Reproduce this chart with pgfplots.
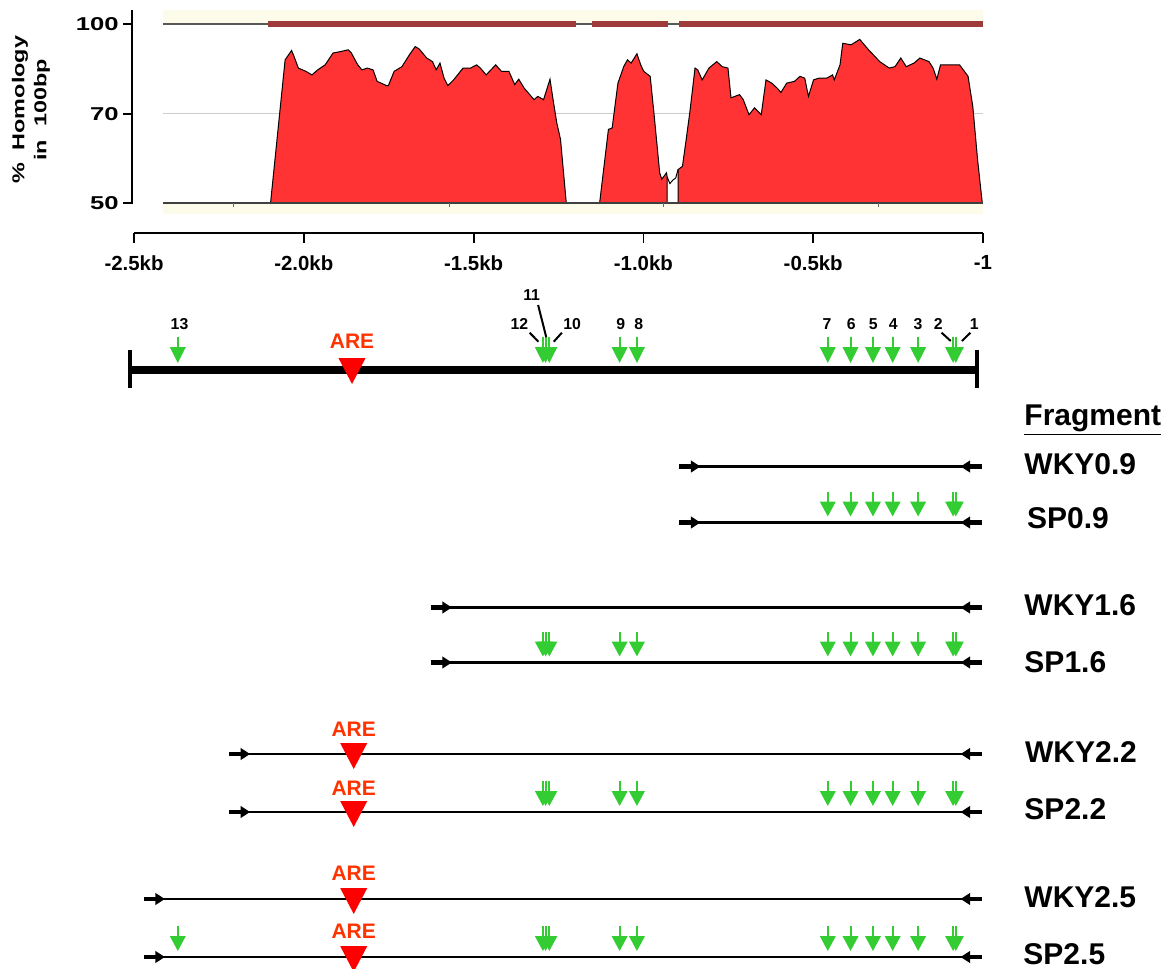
\documentclass[border=0pt]{standalone}
\usepackage{pgfplots}
\pgfplotsset{compat=1.18}
\usepackage{pgfplotstable}
\usepackage{fontspec}
\setmainfont{Liberation Sans}
\usetikzlibrary{arrows.meta}
\definecolor{redfill}{RGB}{255,51,51}
\definecolor{maroonbar}{RGB}{158,58,58}
\definecolor{beige}{RGB}{253,252,234}
\definecolor{sitegreen}{RGB}{51,204,51}
\definecolor{areorange}{RGB}{255,51,0}
\definecolor{gridgray}{RGB}{205,205,205}

% homology profile (kb, % homology)
\pgfplotstableread{
x y
-2.098 50
-2.055 90
-2.036 92.6
-2.029 91
-2.016 87.7
-1.994 86.8
-1.976 85.8
-1.959 87.2
-1.937 88.6
-1.914 91.9
-1.892 92.3
-1.869 92.8
-1.860 91.9
-1.841 88.6
-1.829 87.2
-1.813 87.7
-1.796 87.2
-1.784 84.0
-1.756 82.8
-1.751 82.8
-1.734 86.8
-1.711 88.1
-1.689 91.4
-1.672 93.7
-1.660 93.0
-1.638 90.5
-1.621 89.5
-1.610 87.2
-1.599 89.1
-1.587 84.9
-1.576 82.8
-1.559 84.4
-1.531 87.7
-1.509 87.7
-1.491 88.6
-1.480 87.7
-1.463 85.8
-1.435 88.6
-1.418 86.8
-1.396 86.8
-1.379 83.1
-1.367 84.6
-1.351 82.1
-1.322 78.9
-1.311 79.8
-1.294 78.9
-1.275 84.6
-1.266 78.9
-1.255 72.4
-1.244 67.8
-1.227 50
}\segA
\pgfplotstableread{
x y
-1.129 50
-1.103 70.6
-1.092 71.0
-1.075 83.5
-1.058 88.1
-1.047 90.0
-1.036 89.1
-1.019 91.7
-1.008 88.6
-0.999 86.8
-0.980 85.4
-0.969 75.2
-0.952 58.5
-0.946 56.7
-0.932 58.5
-0.930 57.3
-0.930 50
}\segB
\pgfplotstableread{
x y
-0.898 50
-0.898 59.4
-0.885 60.3
-0.874 67.8
-0.863 75.6
-0.848 87.7
-0.840 87.2
-0.827 84.4
-0.807 87.7
-0.784 89.5
-0.768 88.1
-0.751 87.7
-0.742 79.4
-0.717 80.3
-0.706 78.9
-0.689 74.7
-0.673 76.6
-0.653 74.7
-0.639 84.4
-0.622 83.5
-0.606 82.1
-0.595 80.9
-0.578 83.5
-0.555 84.0
-0.539 85.4
-0.525 84.9
-0.514 79.8
-0.499 84.4
-0.483 84.9
-0.460 84.9
-0.443 85.8
-0.438 84.4
-0.421 88.6
-0.413 94.6
-0.388 94.2
-0.363 95.7
-0.337 92.8
-0.304 89.5
-0.276 87.7
-0.259 88.1
-0.242 90.5
-0.226 88.1
-0.203 89.1
-0.186 90.5
-0.159 89.5
-0.147 87.7
-0.136 84.6
-0.125 88.6
-0.103 88.6
-0.069 88.6
-0.058 87.2
-0.044 85.4
-0.030 77.0
-0.016 62.2
-0.002 50
}\segC
\pgfplotstableread{
x y
-0.930 57.3
-0.922 55.5
-0.913 56.5
-0.905 57.0
-0.898 59.4
}\segGap

% transcription-factor sites (kb); n = site number
\pgfplotstableread{
x n
-2.371 13
-1.296 12
-1.288 11
-1.277 10
-1.070 9
-1.019 8
-0.457 7
-0.390 6
-0.324 5
-0.266 4
-0.191 3
-0.088 2
-0.080 1
}\sitesAll
\pgfplotstableread{
x n
-1.296 12
-1.288 11
-1.277 10
-1.070 9
-1.019 8
-0.457 7
-0.390 6
-0.324 5
-0.266 4
-0.191 3
-0.088 2
-0.080 1
}\sitesMid
\pgfplotstableread{
x n
-0.457 7
-0.390 6
-0.324 5
-0.266 4
-0.191 3
-0.088 2
-0.080 1
}\sitesNear
\pgfplotstableread{
x y
-2.206 50
-1.572 50
-0.942 50
-0.309 50
}\smallticks
% y-axis ticks of the homology panel (50, 75, 100 %), in units of the kb-scale axis
\pgfplotstableread{
x y
-2.506 1.485
-2.506 5.965
-2.506 10.45
}\yticktab

% fragments: start (kb), row, length to -0.003 kb
\pgfplotstableread{
x y L
-0.894 466.5 0.891
-0.894 522.5 0.891
-1.626 607.5 1.623
-1.626 662.5 1.623
-2.220 754 2.217
-2.220 812 2.217
-2.471 899 2.468
-2.471 957 2.468
}\fragtab

\begin{document}
\begin{tikzpicture}
\useasboundingbox (0,0) rectangle (587.5pt,484.5pt);

% ---------------- diagram axis (x in kb, y in rows) ----------------
\begin{axis}[at={(0pt,0pt)}, anchor=south west, scale only axis,
  width=587.5pt, height=484.5pt,
  xmin=-2.8946, xmax=0.5654, ymin=0, ymax=969, y dir=reverse,
  hide axis, clip=true]

% y-axis line of the homology panel
\addplot[fill=black, draw=none] coordinates {(-2.5090,10) (-2.5031,10) (-2.5031,204) (-2.5090,204)} -- cycle;
\node[inner sep=0pt, text=black] at (axis cs:-2.506,107) {\rule{1pt}{97pt}};

% main promoter line
\addplot[line width=4pt] coordinates {(-2.512,370) (-0.018,370)};
\addplot[line width=2.2pt] coordinates {(-2.512,350) (-2.512,388)};
\addplot[line width=2.2pt] coordinates {(-0.018,350) (-0.018,388)};
\addplot[fill=red, draw=none] coordinates {(-1.898,358) (-1.818,358) (-1.858,384)} -- cycle;
\node[font=\fontsize{10.5}{12}\selectfont\bfseries, text=areorange, inner sep=0pt] at (axis cs:-1.858,341) {ARE};

% green sites on main line
\addplot[sitegreen, line width=1pt, -{Triangle[length=8pt,width=7.8pt]}, quiver={u=0,v=26}]
  table[x=x, y expr=337] {\sitesAll};

% site numbers
\begin{scope}[every node/.style={font=\fontsize{7.9}{9}\selectfont\bfseries, inner sep=0pt}]
\node at (axis cs:-2.366,324) {13};
\node at (axis cs:-1.365,324) {12};
\node at (axis cs:-1.329,295) {11};
\node at (axis cs:-1.210,324) {10};
\node at (axis cs:-1.067,324) {9};
\node at (axis cs:-1.014,324) {8};
\node at (axis cs:-0.459,324) {7};
\node at (axis cs:-0.388,324) {6};
\node at (axis cs:-0.323,324) {5};
\node at (axis cs:-0.264,324) {4};
\node at (axis cs:-0.191,324) {3};
\node at (axis cs:-0.132,324) {2};
\node at (axis cs:-0.026,324) {1};
\end{scope}
\addplot[line width=1pt] coordinates {(-1.335,332.7) (-1.309,341.7)};
\addplot[line width=1pt] coordinates {(-1.310,305) (-1.286,337.3)};
\addplot[line width=1pt] coordinates {(-1.240,332.7) (-1.264,341.7)};
\addplot[line width=1pt] coordinates {(-0.122,332.7) (-0.095,341)};
\addplot[line width=1pt] coordinates {(-0.037,332.7) (-0.062,341)};

% fragments
\addplot[line width=1.1pt, quiver={u=\thisrow{L},v=0}] table[x=x, y=y] {\fragtab};
\addplot[line width=2.2pt, -{Triangle[length=4.8pt,width=5.8pt]}, quiver={u=0.062,v=0}] table[x=x, y=y] {\fragtab};
\addplot[line width=2.2pt, -{Triangle[length=4.8pt,width=5.8pt]}, quiver={u=-0.063,v=0}] table[x expr=-0.003, y=y] {\fragtab};

% green sites on fragments
\addplot[sitegreen, line width=1pt, -{Triangle[length=7.5pt,width=7.8pt]}, quiver={u=0,v=25}]
  table[x=x, y expr=491.5] {\sitesNear};
\addplot[sitegreen, line width=1pt, -{Triangle[length=7.5pt,width=7.8pt]}, quiver={u=0,v=25}]
  table[x=x, y expr=631.5] {\sitesMid};
\addplot[sitegreen, line width=1pt, -{Triangle[length=7.5pt,width=7.8pt]}, quiver={u=0,v=25}]
  table[x=x, y expr=781] {\sitesMid};
\addplot[sitegreen, line width=1pt, -{Triangle[length=7.5pt,width=7.8pt]}, quiver={u=0,v=25}]
  table[x=x, y expr=926] {\sitesAll};

% ARE on fragments
\addplot[fill=red, draw=none] coordinates {(-1.893,743) (-1.813,743) (-1.853,769)} -- cycle;
\addplot[fill=red, draw=none] coordinates {(-1.893,801) (-1.813,801) (-1.853,827)} -- cycle;
\addplot[fill=red, draw=none] coordinates {(-1.893,888) (-1.813,888) (-1.853,914)} -- cycle;
\addplot[fill=red, draw=none] coordinates {(-1.893,946) (-1.813,946) (-1.853,972)} -- cycle;
\begin{scope}[every node/.style={font=\fontsize{10.5}{12}\selectfont\bfseries, text=areorange, inner sep=0pt}]
\node at (axis cs:-1.853,729) {ARE};
\node at (axis cs:-1.853,788) {ARE};
\node at (axis cs:-1.853,873) {ARE};
\node at (axis cs:-1.853,931) {ARE};
\end{scope}

% fragment names
\begin{scope}[every node/.style={font=\fontsize{15}{18}\selectfont\bfseries, inner sep=0pt, anchor=west}]
\node[anchor=base west] at (axis cs:0.121,425) {\underline{Fragment}};
\node at (axis cs:0.121,464.5) {WKY0.9};
\node at (axis cs:0.129,518.5) {SP0.9};
\node at (axis cs:0.121,605.5) {WKY1.6};
\node at (axis cs:0.121,662.5) {SP1.6};
\node at (axis cs:0.123,752) {WKY2.2};
\node at (axis cs:0.121,809.5) {SP2.2};
\node at (axis cs:0.121,897.5) {WKY2.5};
\node at (axis cs:0.118,954) {SP2.5};
\end{scope}
\end{axis}

% ---------------- homology plot ----------------
\begin{axis}[at={(67pt,382.85pt)}, anchor=south west, scale only axis,
  width=424.5pt, height=96.65pt,
  xmin=-2.5, xmax=0, ymin=50, ymax=103.9,
  axis lines*=left,
  x axis line style={draw=none}, xtick=\empty,
  y axis line style={draw=none},
  ytick={50,75,100},
  yticklabels={{\scalebox{1.38}[1]{50}},{\scalebox{1.38}[1]{70}},{\scalebox{1.38}[1]{100}}},
  tick align=outside, major tick length=5pt,
  ytick style={draw=none},
  yticklabel style={font=\fontsize{9.3}{11}\selectfont\bfseries, inner sep=0pt, xshift=-2.5pt},
  ylabel={\scalebox{1.36}[1]{\begin{tabular}{@{}c@{}}\%\ \ Homology\\in\ \ 100bp\end{tabular}}},
  ylabel style={font=\fontsize{8.6}{11}\selectfont\bfseries, at={(axis description cs:-0.1213,0.483)}, anchor=center},
  clip=false]
\addplot[fill=beige, draw=none] coordinates {(-2.415,100) (0,100) (0,103.9) (-2.415,103.9)} -- cycle;
\addplot[fill=beige, draw=none] coordinates {(-2.415,46.9) (0,46.9) (0,50) (-2.415,50)} -- cycle;
\addplot[gridgray, line width=0.6pt] coordinates {(-2.415,75) (0,75)};
\addplot[black!65, line width=0.8pt] coordinates {(-2.415,100) (0,100)};
\addplot[fill=redfill, draw=none] table[x=x,y=y] {\segA} -- cycle;
\addplot[fill=redfill, draw=none] table[x=x,y=y] {\segB} -- cycle;
\addplot[fill=redfill, draw=none] table[x=x,y=y] {\segC} -- cycle;
\addplot[black, line width=0.5pt] table[x=x,y=y] {\segA};
\addplot[black, line width=0.5pt] table[x=x,y=y] {\segB};
\addplot[black, line width=0.5pt] table[x=x,y=y] {\segGap};
\addplot[black, line width=0.5pt] table[x=x,y=y] {\segC};
\addplot[black!75, line width=1pt] coordinates {(-2.415,50) (0,50)};
\addplot[black!60, line width=0.5pt, quiver={u=0,v=-1}] table[x=x, y=y] {\smallticks};
\addplot[maroonbar, line width=3pt] coordinates {(-2.105,100) (-1.198,100)};
\addplot[maroonbar, line width=3pt] coordinates {(-1.151,100) (-0.928,100)};
\addplot[maroonbar, line width=3pt] coordinates {(-0.895,100) (0,100)};
\end{axis}

% ---------------- kb scale (also carries the homology y-axis ticks) ----------------
\begin{axis}[name=kbaxis, at={(67pt,368pt)}, anchor=south west, scale only axis,
  width=424.5pt, height=10pt,
  xmin=-2.5, xmax=0, ymin=0, ymax=1,
  axis x line*=bottom, axis y line=none,
  x axis line style={line width=0.9pt},
  xtick={-2.5,-2,-1.5,-1,-0.5,0},
  xticklabels={-2.5kb,-2.0kb,-1.5kb,-1.0kb,-0.5kb,-1},
  tick align=outside, major tick length=5pt,
  every tick/.style={black, line width=0.9pt},
  xticklabel style={font=\fontsize{10.2}{12}\selectfont\bfseries, inner sep=0pt, yshift=-6pt},
  clip=false]
\addplot[black, line width=1pt, quiver={u=-0.0265,v=0}] table[x=x, y=y] {\yticktab};
\addplot[fill=black, draw=none] coordinates {(-2.5090,1.46) (-2.5031,1.46) (-2.5031,11.15) (-2.5090,11.15)} -- cycle;
\end{axis}
\draw[black, line width=1pt] ([xshift=-1pt,yshift=14.6pt]kbaxis.south west) -- ([xshift=-1pt,yshift=111.5pt]kbaxis.south west);
\end{tikzpicture}
\end{document}
